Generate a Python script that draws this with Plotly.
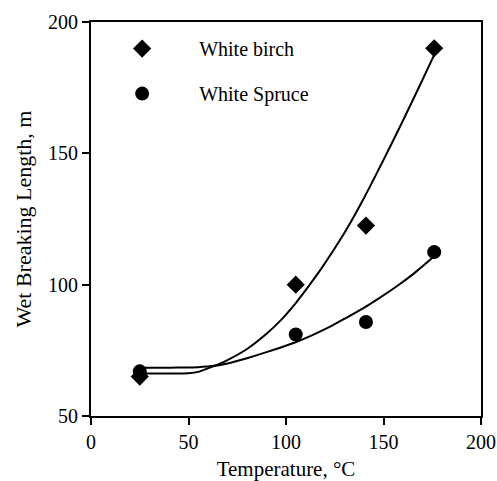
import plotly.graph_objects as go

# measured data
temp = [25, 105, 141, 176]
birch = [65, 100, 122.5, 190]
spruce = [67, 81, 85.8, 112.4]

# fitted curves
birch_fit_x = [25, 40, 50, 55, 61, 70, 80, 90, 97, 105, 112, 118, 124, 131, 140, 150, 160, 170, 176]
birch_fit_y = [66.2, 66.2, 66.3, 66.8, 68.4, 71.3, 75.5, 81.3, 86.2, 93, 99.8, 106, 112.7, 121, 133, 147.5, 162.5, 178, 187.5]
spruce_fit_x = [25, 40, 50, 55, 61, 70, 80, 90, 104.6, 113, 122.6, 130, 139.5, 148, 157, 166, 176]
spruce_fit_y = [68.4, 68.4, 68.5, 68.6, 68.9, 70, 72, 74.3, 78, 80.6, 84, 87, 91, 95, 99.5, 104.5, 110.8]

FONT = "Liberation Serif"

fig = go.Figure()
fig.add_trace(go.Scatter(x=birch_fit_x, y=birch_fit_y, mode="lines",
                         line=dict(color="black", width=2, shape="spline", smoothing=0.6),
                         showlegend=False, hoverinfo="skip"))
fig.add_trace(go.Scatter(x=spruce_fit_x, y=spruce_fit_y, mode="lines",
                         line=dict(color="black", width=2, shape="spline", smoothing=0.6),
                         showlegend=False, hoverinfo="skip"))
fig.add_trace(go.Scatter(x=temp, y=birch, mode="markers", name="White birch", legendgroup="a",
                         marker=dict(symbol="diamond", size=14, color="black")))
fig.add_trace(go.Scatter(x=temp, y=spruce, mode="markers", name="White Spruce", legendgroup="b",
                         marker=dict(symbol="circle", size=14, color="black")))

axis_common = dict(showline=True, linecolor="black", linewidth=2, mirror=True, ticks="outside",
                   ticklen=7, tickwidth=2, tickcolor="black", showgrid=False, zeroline=False,
                   automargin=False,
                   tickfont=dict(family=FONT, size=20, color="black"))

fig.update_layout(
    width=497, height=481,
    margin=dict(l=91, r=16, t=22, b=65),
    paper_bgcolor="white", plot_bgcolor="white",
    font=dict(family=FONT, color="black"),
    xaxis=dict(range=[0, 200], tickvals=[0, 50, 100, 150, 200],
               title=dict(text="Temperature, °C", font=dict(family=FONT, size=21), standoff=10), **axis_common),
    yaxis=dict(range=[50, 200], tickvals=[50, 100, 150, 200],
               title=dict(text="Wet Breaking Length, m", font=dict(family=FONT, size=22), standoff=10), **axis_common),
    legend=dict(x=-0.015, y=0.982, xanchor="left", yanchor="top", bgcolor="rgba(0,0,0,0)",
                font=dict(family=FONT, size=20), tracegroupgap=16, itemwidth=104, traceorder="grouped"),
)

fig.write_html("out.html")
